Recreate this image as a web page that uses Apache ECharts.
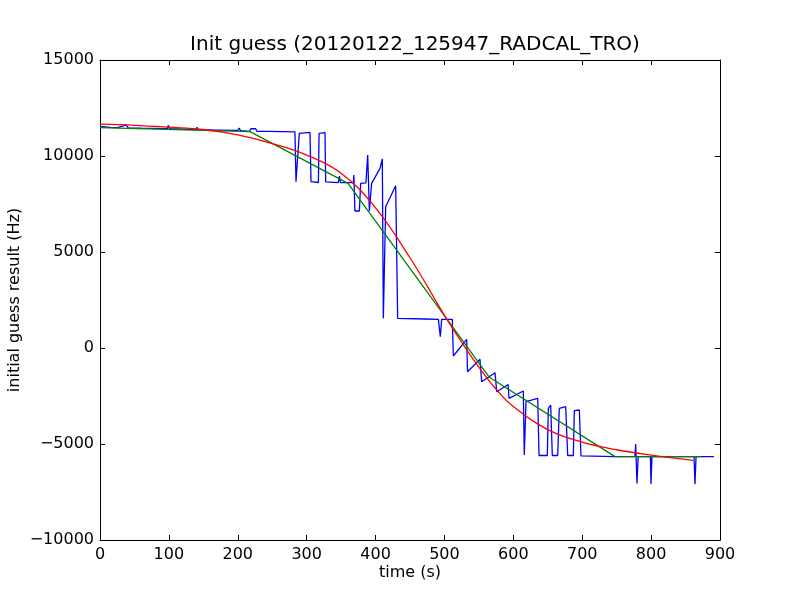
<!DOCTYPE html>
<html>
<head>
<meta charset="utf-8">
<script src="https://cdn.jsdelivr.net/npm/echarts@6/dist/echarts.min.js"></script>
<style>html,body{margin:0;padding:0;background:#fff}#c{width:800px;height:600px}</style>
</head>
<body>
<div id="c"></div>
<script>
const titleText = "Init guess (20120122_125947_RADCAL_TRO)";
const xAxisLabel = "time (s)";
const yAxisLabel = "initial guess result (Hz)";

const blueTimes = [0,4,15,25,38,41,60,80,98,99,101,120,140,141,143,170,200,202,204,217,219,226,228,243,245,247,262,264,266,283,284.5,289.3,304.8,306.3,317,318,326.6,327.6,346,347.5,349,367.7,368.5,370,376.5,378.4,386,388.6,391,394.3,406.5,409.8,411.3,414.7,429.2,432.1,471.8,491.2,494,496,511.4,512.9,532.3,533.5,551.6,554.1,573.4,575.9,592.5,593.7,614.5,615.9,618.4,635.4,637.3,649.3,650.8,654.2,656.6,664.4,666.7,676.0,678.9,687.1,688.5,695.8,698.2,747.6,776.5,777.6,779.5,781.2,799.0,799.8,801.2,862.3,863.7,865.2,891.3];
const blueValues = [11500,11530,11490,11480,11610,11470,11450,11440,11430,11600,11420,11400,11380,11500,11370,11350,11330,11450,11320,11280,11420,11420,11280,11280,11380,11280,11270,11370,11270,11260,8660,11180,11230,8660,8620,11180,11220,8650,8610,8950,8610,8610,9010,7135,7135,8576,8600,10052,7135,8576,9357,9844,1545,7361,8455,1545,1510,1493,590,1493,1493,-417,453,-1233,-590,-1754,-1285,-2275,-1900,-2620,-2240,-5573,-2795,-2620,-5600,-5600,-3142,-2969,-5600,-5600,-3142,-3055,-5600,-5600,-3264,-3229,-5620,-5660,-5660,-5000,-7050,-5660,-5660,-7083,-5660,-5660,-7100,-5660,-5660];

const greenTimes = [0,217.7,360,564.7,747.6,873];
const greenValues = [11480,11270,8576,-1510,-5660,-5660];

const redTimes = [0,50,100,150,200,250,300,350,400,450,500,525,550,575,600,650,700,750,800,861];
const redValues = [11660,11600,11500,11380,11100,10650,10050,9100,7300,4700,1700,300,-1000,-2150,-3050,-4250,-4900,-5300,-5580,-5850];

function pairs(ts, vs) { return ts.map((t, i) => [t, vs[i]]); }

const font = 'DejaVu Sans';
const chart = echarts.init(document.getElementById('c'), null, {renderer: 'canvas'});
const minus = v => String(v).replace('-', '\u2212');
const baseX = {
  type: 'value', min: 0, max: 900, interval: 100,
  axisLine: {show: true, onZero: false, lineStyle: {color: '#000', width: 1}},
  axisTick: {show: true, inside: true, length: 5, lineStyle: {color: '#000'}},
  splitLine: {show: false}
};
const baseY = {
  type: 'value', min: -10000, max: 15000, interval: 5000,
  axisLine: {show: true, onZero: false, lineStyle: {color: '#000', width: 1}},
  axisTick: {show: true, inside: true, length: 5, lineStyle: {color: '#000'}},
  splitLine: {show: false}
};
chart.setOption({
  animation: false,
  backgroundColor: '#fff',
  title: {
    text: titleText, left: 410, top: 30, textAlign: 'center',
    textStyle: {fontFamily: font, fontSize: 20, fontWeight: 'normal', color: '#000'}
  },
  grid: {left: 100, right: 80, top: 60, bottom: 60, containLabel: false, outerBoundsMode: 'none'},
  xAxis: [
    Object.assign({}, baseX, {
      position: 'bottom', name: xAxisLabel, nameLocation: 'middle', nameGap: 25, nameMoveOverlap: false,
      nameTextStyle: {fontFamily: font, fontSize: 16, color: '#000'},
      axisLabel: {show: true, margin: 7, fontFamily: font, fontSize: 16, color: '#000', formatter: minus}
    }),
    Object.assign({}, baseX, {position: 'top', axisLabel: {show: false}})
  ],
  yAxis: [
    Object.assign({}, baseY, {
      position: 'left', name: yAxisLabel, nameLocation: 'middle', nameGap: 77, nameRotate: 90, nameMoveOverlap: false,
      nameTextStyle: {fontFamily: font, fontSize: 16, color: '#000'},
      axisLabel: {show: true, margin: 6, fontFamily: font, fontSize: 16, color: '#000', formatter: minus}
    }),
    Object.assign({}, baseY, {position: 'right', axisLabel: {show: false}})
  ],
  series: [
    {type: 'line', data: pairs(blueTimes, blueValues), showSymbol: false, symbol: 'none',
     lineStyle: {color: '#0000ff', width: 1.3}, z: 2},
    {type: 'line', data: pairs(greenTimes, greenValues), showSymbol: false, symbol: 'none',
     lineStyle: {color: '#008000', width: 1.3}, z: 3},
    {type: 'line', data: pairs(redTimes, redValues), showSymbol: false, symbol: 'none', smooth: 0.4,
     lineStyle: {color: '#ff0000', width: 1.3}, z: 4}
  ]
});
</script>
</body>
</html>
